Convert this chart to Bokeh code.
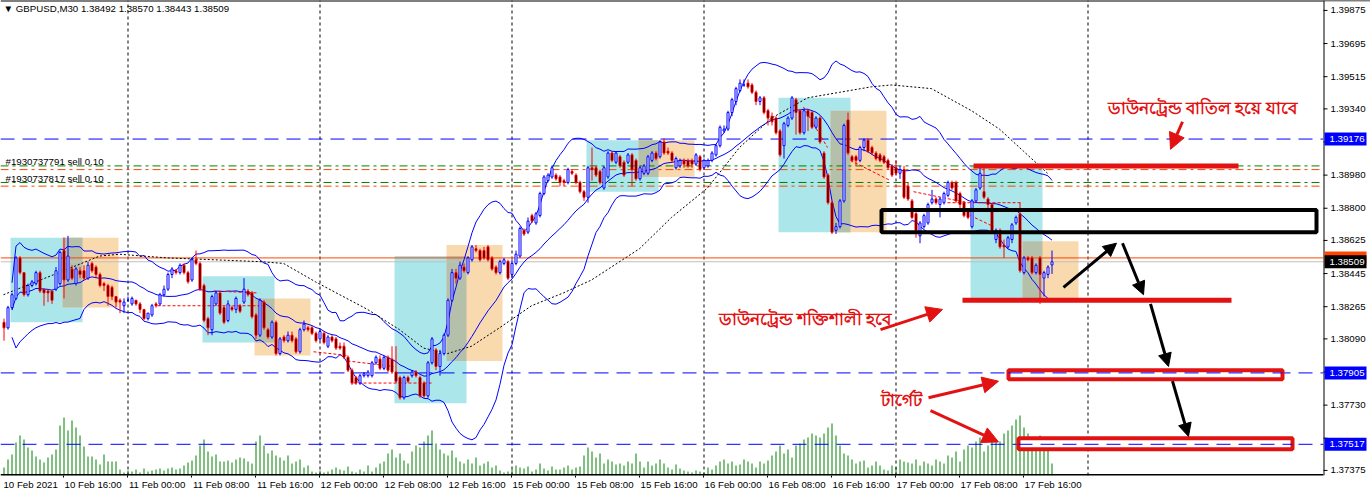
import numpy as np
import pandas as pd
from bokeh.plotting import figure
from bokeh.models import Range1d, FixedTicker, Label, Arrow, NormalHead, ColumnDataSource
from bokeh.core.properties import value
from bokeh.embed import file_html
from bokeh.resources import INLINE

symbol = "GBPUSD,M30"
last_ohlc = [1.38492, 1.38570, 1.38443, 1.38509]

opens = [1.3818, 1.3815, 1.3826, 1.3831, 1.3853, 1.3845, 1.3833, 1.3838, 1.3839, 1.3845,
         1.3836, 1.3835, 1.3835, 1.3836, 1.3839, 1.3857, 1.3841, 1.3847, 1.3839, 1.3846,
         1.3846, 1.3842, 1.3850, 1.3848, 1.3844, 1.3839, 1.3838, 1.3837, 1.3832, 1.3830,
         1.3827, 1.3830, 1.3828, 1.3830, 1.3828, 1.3825, 1.3820, 1.3822, 1.3828, 1.3828,
         1.3833, 1.3836, 1.3844, 1.3846, 1.3845, 1.3849, 1.3845, 1.3841, 1.3852, 1.3850,
         1.3838, 1.3820, 1.3814, 1.3828, 1.3834, 1.3826, 1.3819, 1.3826, 1.3825, 1.3827,
         1.3829, 1.3835, 1.3834, 1.3822, 1.3811, 1.3829, 1.3814, 1.3810, 1.3818, 1.3801,
         1.3810, 1.3808, 1.3811, 1.3809, 1.3802, 1.3814, 1.3815, 1.3815, 1.3812, 1.3809,
         1.3812, 1.3805, 1.3810, 1.3809, 1.3805, 1.3805, 1.3799, 1.3792, 1.3788, 1.3785,
         1.3789, 1.3789, 1.3789, 1.3796, 1.3798, 1.3793, 1.3799, 1.3798, 1.3791, 1.3788,
         1.3777, 1.3788, 1.3789, 1.3791, 1.3788, 1.3785, 1.3778, 1.3796, 1.3803, 1.3794,
         1.3801, 1.3811, 1.3830, 1.3845, 1.3842, 1.3848, 1.3845, 1.3852, 1.3858, 1.3857,
         1.3857, 1.3859, 1.3853, 1.3848, 1.3845, 1.3850, 1.3851, 1.3844, 1.3850, 1.3854,
         1.3868, 1.3867, 1.3876, 1.3872, 1.3876, 1.3888, 1.3895, 1.3897, 1.3898, 1.3897,
         1.3895, 1.3894, 1.3900, 1.3898, 1.3894, 1.3889, 1.3886, 1.3902, 1.3902, 1.3900,
         1.3891, 1.3897, 1.3910, 1.3905, 1.3908, 1.3905, 1.3905, 1.3909, 1.3906, 1.3896,
         1.3899, 1.3899, 1.3906, 1.3910, 1.3908, 1.3916, 1.3911, 1.3910, 1.3902, 1.3903,
         1.3906, 1.3906, 1.3906, 1.3904, 1.3908, 1.3902, 1.3903, 1.3906, 1.3909, 1.3914,
         1.3922, 1.3923, 1.3932, 1.3938, 1.3944, 1.3947, 1.3948, 1.3947, 1.3943, 1.3938,
         1.3940, 1.3933, 1.3930, 1.3929, 1.3922, 1.3914, 1.3925, 1.3929, 1.3939, 1.3933,
         1.3921, 1.3933, 1.3932, 1.3924, 1.3929, 1.3910, 1.3898, 1.3883, 1.3868, 1.3870,
         1.3884, 1.3928, 1.3908, 1.3908, 1.3906, 1.3913, 1.3917, 1.3913, 1.3910, 1.3909,
         1.3908, 1.3906, 1.3903, 1.3902, 1.3899, 1.3901, 1.3892, 1.3884, 1.3877, 1.3865,
         1.3870, 1.3872, 1.3883, 1.3885, 1.3882, 1.3883, 1.3887, 1.3894, 1.3894, 1.3888,
         1.3883, 1.3879, 1.3870, 1.3884, 1.3891, 1.3889, 1.3885, 1.3882, 1.3863, 1.3868,
         1.3860, 1.3859, 1.3863, 1.3872, 1.3877, 1.3845, 1.3853, 1.3853, 1.3845, 1.3853,
         1.3842, 1.3844, 1.38492]

highs = [1.3820, 1.3827, 1.3834, 1.3854, 1.3854, 1.3845, 1.3839, 1.3841, 1.3846, 1.3846,
         1.3836, 1.3836, 1.3835, 1.3848, 1.3857, 1.3864, 1.3865, 1.3849, 1.3848, 1.3848,
         1.3849, 1.3851, 1.3851, 1.3849, 1.3845, 1.3840, 1.3839, 1.3838, 1.3832, 1.3831,
         1.3831, 1.3832, 1.3832, 1.3830, 1.3829, 1.3825, 1.3823, 1.3828, 1.3829, 1.3834,
         1.3838, 1.3845, 1.3848, 1.3847, 1.3850, 1.3850, 1.3846, 1.3853, 1.3857, 1.3851,
         1.3839, 1.3821, 1.3833, 1.3835, 1.3835, 1.3827, 1.3830, 1.3827, 1.3832, 1.3828,
         1.3842, 1.3836, 1.3835, 1.3823, 1.3831, 1.3830, 1.3815, 1.3819, 1.3819, 1.3810,
         1.3811, 1.3813, 1.3813, 1.3810, 1.3815, 1.3819, 1.3816, 1.3816, 1.3813, 1.3814,
         1.3813, 1.3811, 1.3811, 1.3810, 1.3807, 1.3807, 1.3800, 1.3793, 1.3789, 1.3790,
         1.3791, 1.3792, 1.3797, 1.3800, 1.3800, 1.3800, 1.3800, 1.3805, 1.3805, 1.3789,
         1.3789, 1.3789, 1.3792, 1.3792, 1.3789, 1.3786, 1.3797, 1.3810, 1.3804, 1.3803,
         1.3812, 1.3831, 1.3847, 1.3847, 1.3851, 1.3850, 1.3854, 1.3860, 1.3860, 1.3858,
         1.3859, 1.3860, 1.3854, 1.3849, 1.3852, 1.3853, 1.3852, 1.3852, 1.3857, 1.3870,
         1.3869, 1.3875, 1.3877, 1.3878, 1.3889, 1.3898, 1.3899, 1.3903, 1.3899, 1.3898,
         1.3896, 1.3902, 1.3901, 1.3899, 1.3895, 1.3890, 1.3903, 1.3913, 1.3903, 1.3901,
         1.3903, 1.3911, 1.3911, 1.3911, 1.3909, 1.3906, 1.3910, 1.3910, 1.3907, 1.3903,
         1.3904, 1.3909, 1.3911, 1.3911, 1.3917, 1.3918, 1.3913, 1.3911, 1.3908, 1.3907,
         1.3907, 1.3907, 1.3907, 1.3910, 1.3909, 1.3907, 1.3907, 1.3911, 1.3915, 1.3925,
         1.3925, 1.3933, 1.3940, 1.3946, 1.3950, 1.3950, 1.3950, 1.3948, 1.3944, 1.3941,
         1.3941, 1.3934, 1.3932, 1.3930, 1.3923, 1.3927, 1.3930, 1.3941, 1.3940, 1.3934,
         1.3934, 1.3934, 1.3933, 1.3930, 1.3930, 1.3911, 1.3899, 1.3884, 1.3872, 1.3885,
         1.3926, 1.3932, 1.3909, 1.3909, 1.3914, 1.3918, 1.3918, 1.3914, 1.3911, 1.3910,
         1.3909, 1.3907, 1.3904, 1.3906, 1.3903, 1.3903, 1.3894, 1.3885, 1.3878, 1.3873,
         1.3877, 1.3883, 1.3890, 1.3886, 1.3886, 1.3889, 1.3895, 1.3895, 1.3895, 1.3889,
         1.3884, 1.3880, 1.3885, 1.3891, 1.3903, 1.3902, 1.3886, 1.3883, 1.3869, 1.3869,
         1.3863, 1.3865, 1.3872, 1.3876, 1.3883, 1.3854, 1.3854, 1.3854, 1.3850, 1.3854,
         1.3846, 1.3849, 1.38570]

lows = [1.3808, 1.3814, 1.3825, 1.3830, 1.3844, 1.3832, 1.3832, 1.3837, 1.3838, 1.3834,
        1.3827, 1.3829, 1.3828, 1.3835, 1.3838, 1.3831, 1.3840, 1.3841, 1.3838, 1.3842,
        1.3841, 1.3841, 1.3845, 1.3842, 1.3837, 1.3835, 1.3827, 1.3830, 1.3826, 1.3823,
        1.3823, 1.3829, 1.3827, 1.3827, 1.3823, 1.3819, 1.3819, 1.3821, 1.3826, 1.3827,
        1.3832, 1.3835, 1.3842, 1.3844, 1.3844, 1.3844, 1.3839, 1.3840, 1.3849, 1.3835,
        1.3818, 1.3811, 1.3811, 1.3827, 1.3822, 1.3817, 1.3818, 1.3824, 1.3823, 1.3823,
        1.3828, 1.3832, 1.3820, 1.3809, 1.3810, 1.3814, 1.3809, 1.3809, 1.3800, 1.3800,
        1.3807, 1.3807, 1.3807, 1.3801, 1.3801, 1.3813, 1.3813, 1.3811, 1.3807, 1.3808,
        1.3806, 1.3804, 1.3807, 1.3803, 1.3803, 1.3798, 1.3791, 1.3784, 1.3784, 1.3784,
        1.3788, 1.3788, 1.3788, 1.3795, 1.3792, 1.3792, 1.3791, 1.3790, 1.3785, 1.3776,
        1.3776, 1.3785, 1.3788, 1.3788, 1.3777, 1.3777, 1.3777, 1.3795, 1.3792, 1.3789,
        1.3800, 1.3810, 1.3829, 1.3839, 1.3841, 1.3845, 1.3844, 1.3851, 1.3856, 1.3851,
        1.3852, 1.3851, 1.3846, 1.3844, 1.3844, 1.3849, 1.3841, 1.3842, 1.3849, 1.3853,
        1.3865, 1.3866, 1.3872, 1.3871, 1.3875, 1.3887, 1.3894, 1.3896, 1.3895, 1.3892,
        1.3892, 1.3893, 1.3898, 1.3893, 1.3888, 1.3884, 1.3883, 1.3895, 1.3897, 1.3893,
        1.3890, 1.3896, 1.3905, 1.3904, 1.3902, 1.3897, 1.3904, 1.3892, 1.3895, 1.3895,
        1.3898, 1.3898, 1.3905, 1.3906, 1.3907, 1.3909, 1.3909, 1.3905, 1.3901, 1.3902,
        1.3902, 1.3902, 1.3902, 1.3903, 1.3900, 1.3901, 1.3902, 1.3905, 1.3908, 1.3913,
        1.3921, 1.3922, 1.3930, 1.3936, 1.3943, 1.3946, 1.3945, 1.3942, 1.3936, 1.3936,
        1.3931, 1.3925, 1.3925, 1.3920, 1.3908, 1.3907, 1.3924, 1.3928, 1.3920, 1.3920,
        1.3920, 1.3922, 1.3923, 1.3923, 1.3915, 1.3896, 1.3882, 1.3866, 1.3866, 1.3869,
        1.3883, 1.3909, 1.3905, 1.3903, 1.3905, 1.3911, 1.3910, 1.3909, 1.3906, 1.3905,
        1.3904, 1.3901, 1.3897, 1.3898, 1.3896, 1.3885, 1.3884, 1.3874, 1.3864, 1.3861,
        1.3869, 1.3871, 1.3882, 1.3882, 1.3875, 1.3882, 1.3886, 1.3890, 1.3883, 1.3880,
        1.3875, 1.3874, 1.3869, 1.3883, 1.3890, 1.3885, 1.3880, 1.3866, 1.3861, 1.3858,
        1.3853, 1.3858, 1.3861, 1.3871, 1.3845, 1.3844, 1.3851, 1.3844, 1.3844, 1.3828,
        1.3832, 1.3842, 1.38443]

closes = [1.3815, 1.3826, 1.3833, 1.3853, 1.3845, 1.3833, 1.3838, 1.3840, 1.3845, 1.3835,
          1.3834, 1.3834, 1.3830, 1.3846, 1.3856, 1.3841, 1.3854, 1.3842, 1.3847, 1.3844,
          1.3842, 1.3849, 1.3846, 1.3844, 1.3838, 1.3838, 1.3832, 1.3832, 1.3829, 1.3829,
          1.3829, 1.3830, 1.3831, 1.3828, 1.3825, 1.3820, 1.3823, 1.3827, 1.3827, 1.3833,
          1.3836, 1.3844, 1.3847, 1.3845, 1.3849, 1.3845, 1.3840, 1.3852, 1.3850, 1.3836,
          1.3819, 1.3815, 1.3832, 1.3834, 1.3823, 1.3818, 1.3828, 1.3825, 1.3831, 1.3824,
          1.3836, 1.3833, 1.3821, 1.3811, 1.3830, 1.3815, 1.3810, 1.3818, 1.3801, 1.3809,
          1.3808, 1.3811, 1.3808, 1.3802, 1.3814, 1.3817, 1.3814, 1.3812, 1.3808, 1.3813,
          1.3807, 1.3810, 1.3808, 1.3804, 1.3804, 1.3799, 1.3792, 1.3785, 1.3785, 1.3789,
          1.3790, 1.3791, 1.3796, 1.3799, 1.3793, 1.3799, 1.3792, 1.3791, 1.3786, 1.3777,
          1.3788, 1.3786, 1.3791, 1.3789, 1.3778, 1.3778, 1.3796, 1.3809, 1.3794, 1.3801,
          1.3811, 1.3830, 1.3845, 1.3842, 1.3849, 1.3846, 1.3853, 1.3859, 1.3857, 1.3852,
          1.3853, 1.3852, 1.3847, 1.3845, 1.3851, 1.3852, 1.3842, 1.3850, 1.3855, 1.3869,
          1.3866, 1.3873, 1.3873, 1.3877, 1.3888, 1.3897, 1.3898, 1.3902, 1.3896, 1.3894,
          1.3894, 1.3901, 1.3899, 1.3894, 1.3889, 1.3886, 1.3902, 1.3901, 1.3898, 1.3894,
          1.3902, 1.3910, 1.3906, 1.3910, 1.3903, 1.3898, 1.3909, 1.3901, 1.3896, 1.3902,
          1.3903, 1.3908, 1.3910, 1.3907, 1.3916, 1.3910, 1.3910, 1.3906, 1.3907, 1.3906,
          1.3904, 1.3903, 1.3904, 1.3909, 1.3901, 1.3906, 1.3906, 1.3910, 1.3914, 1.3924,
          1.3923, 1.3932, 1.3939, 1.3945, 1.3948, 1.3947, 1.3946, 1.3943, 1.3938, 1.3940,
          1.3932, 1.3929, 1.3927, 1.3921, 1.3909, 1.3926, 1.3929, 1.3940, 1.3932, 1.3921,
          1.3933, 1.3930, 1.3924, 1.3929, 1.3916, 1.3897, 1.3883, 1.3867, 1.3870, 1.3884,
          1.3925, 1.3910, 1.3906, 1.3906, 1.3913, 1.3917, 1.3911, 1.3910, 1.3907, 1.3906,
          1.3905, 1.3902, 1.3898, 1.3899, 1.3901, 1.3886, 1.3885, 1.3875, 1.3868, 1.3872,
          1.3876, 1.3882, 1.3885, 1.3883, 1.3885, 1.3888, 1.3894, 1.3891, 1.3884, 1.3882,
          1.3876, 1.3875, 1.3884, 1.3890, 1.3899, 1.3886, 1.3882, 1.3867, 1.3868, 1.3859,
          1.3859, 1.3864, 1.3871, 1.3875, 1.3846, 1.3853, 1.3852, 1.3845, 1.3849, 1.3844,
          1.3845, 1.3848, 1.38509]

volumes = [80, 160, 210, 330, 400, 360, 280, 250, 190, 160, 130, 180, 210, 260, 500,
           580, 450, 550, 480, 400, 290,
           190, 190, 160, 110, 210, 140, 140, 140, 60, 30,
           50, 40, 60, 30, 70, 40, 50, 60, 70, 50, 70, 80, 60, 70, 100, 130, 150,
           200, 300, 360, 240, 190, 210, 140, 140, 150, 130, 160, 180, 170, 140, 120,
           340, 400, 300, 220, 250, 200,
           180, 150, 200, 120, 140, 160, 80, 100, 40, 30, 50, 30,
           40, 60, 80, 60, 50, 90, 40, 30, 60, 40, 100, 40, 80, 120, 140,
           220, 260, 180, 220, 150, 120, 240, 300, 280, 340, 400, 450, 320, 260, 220, 200,
           250, 180, 140, 120, 160, 120, 180, 100, 120, 140, 80, 100, 50, 30, 40,
           60, 100, 80, 70, 90, 40, 60, 120, 70, 50, 90, 60, 60, 80, 100, 60, 80, 90, 200, 280,
           240, 180, 220, 120, 160, 140, 110, 120, 100, 140, 120, 220, 140, 80,
           140, 100, 120, 160, 120, 80, 60, 110, 70, 50, 40, 30, 50, 40, 30, 80,
           60, 100, 140, 160, 120, 140, 100, 110, 160, 140, 120, 80, 140, 120, 150, 200,
           240, 300, 220, 260, 180, 300, 320, 360, 380, 420, 400, 380, 420, 480, 520, 400, 300, 220,
           200, 160, 120, 140, 150, 80, 100, 140, 100, 60, 50, 100, 80, 160, 140,
           130, 120, 160, 100, 140, 120, 100, 160, 140, 120, 200, 180, 240, 140, 260, 300, 280, 340, 380,
           240, 300, 380, 360, 340, 420, 450, 500, 560, 600, 480, 420, 300, 360, 400, 380, 320, 120]

# slow dotted moving average, read at sample bars
ma_bars = [0, 15, 24, 29, 41, 64, 70, 78, 91, 99, 105, 111, 117, 124, 132, 140, 147, 159, 167, 176,
           184, 192, 201, 209, 217, 222, 232, 242, 249, 255, 261]
ma_vals = [1.3833, 1.3846, 1.3854, 1.3855, 1.3853, 1.3851, 1.3850, 1.3840, 1.3825, 1.3814, 1.3804,
           1.3801, 1.3805, 1.3815, 1.3827, 1.3834, 1.3841, 1.3858, 1.3875, 1.3891, 1.3913, 1.3929,
           1.3940, 1.3943, 1.3946, 1.3947, 1.3945, 1.3933, 1.3923, 1.3911, 1.3899]

# time axis (bar index where each time label starts)
x_labels = ["10 Feb 2021", "10 Feb 16:00", "11 Feb 00:00", "11 Feb 08:00", "11 Feb 16:00",
            "12 Feb 00:00", "12 Feb 08:00", "12 Feb 16:00", "15 Feb 00:00", "15 Feb 08:00",
            "15 Feb 16:00", "16 Feb 00:00", "16 Feb 08:00", "16 Feb 16:00", "17 Feb 00:00",
            "17 Feb 08:00", "17 Feb 16:00"]
x_label_bars = [-0.6, 15, 31, 47, 63, 79, 95, 111, 127, 143, 159, 175, 191, 207, 223, 239, 255]
day_start_bars = [31, 79, 127, 175, 223, 271]

# price scale ticks
y_ticks = [1.39875, 1.39695, 1.39515, 1.39340, 1.39160, 1.38980, 1.38800, 1.38625, 1.38445,
           1.38265, 1.38090, 1.37910, 1.37730, 1.37550, 1.37375]
hidden_tick_labels = [1.39160, 1.37910, 1.37550]

# session boxes
cyan_left = [1.75, 49.75, 97.75, 145.75, 193.75, 241.75]
cyan_right = [19.75, 67.75, 115.75, 163.75, 211.75, 259.75]
cyan_top = [1.3864, 1.3843, 1.3854, 1.3917, 1.3940, 1.3903]
cyan_bottom = [1.3818, 1.3807, 1.3774, 1.3889, 1.3867, 1.3830]
orange_left = [14.75, 62.75, 110.75, 158.75, 206.75, 254.75]
orange_right = [28.75, 76.75, 124.75, 172.75, 220.75, 268.75]
orange_top = [1.3864, 1.3831, 1.3860, 1.3917, 1.3933, 1.3862]
orange_bottom = [1.3826, 1.3800, 1.3797, 1.3897, 1.3867, 1.3830]

# trade history lines
trade_b0 = [38.5, 52.5, 77.5, 86, 87.5, 200, 211.75, 236, 227.5, 241.75]
trade_b1 = [66, 63.5, 86, 97.5, 107.5, 206, 221.75, 254.25, 241, 247.5]
trade_p0 = [1.3827, 1.3835, 1.3802, 1.3797, 1.3785, 1.3935, 1.3906, 1.3883, 1.3889, 1.3876]
trade_p1 = [1.3827, 1.3834, 1.3800, 1.3794, 1.3785, 1.3913, 1.3895, 1.3883, 1.3883, 1.3870]

# horizontal levels
blue_levels = [1.39176, 1.37905, 1.37517]
order_open = [1.3903, 1.3894]
order_stop = [1.3901, 1.3892]
order_names = ["#1930737791 sell 0.10", "#1930737817 sell 0.10"]
order_text_y = [1.39054, 1.38962]
ask_price = 1.38530

# hand drawn annotations
red_line_b0 = [242.5, 239.75]
red_line_b1 = [308.75, 307]
red_line_p = [1.3903, 1.3830]
target_b0 = [251.25, 253.75]
target_b1 = [319.75, 322.25]
target_top = [1.3792, 1.3755]
target_bottom = [1.3787, 1.3749]
zone_b = [219.5, 328.25]
zone_p = [1.3867, 1.3879]
red_arrows = [(294.75, 1.3927, 291.75, 1.3912), (219.25, 1.3814, 234.75, 1.3825),
              (231.25, 1.3777, 248.75, 1.3786), (231.75, 1.3770, 248.75, 1.3753)]
black_arrows = [(265, 1.3837, 278.25, 1.3861), (279.75, 1.3861, 285, 1.3833),
                (286.75, 1.3828, 291.25, 1.3794), (292.25, 1.3786, 296.25, 1.3756)]
notes = ["ডাউনট্রেন্ড বাতিল হয়ে যাবে", "ডাউনট্রেন্ড শক্তিশালী হবে", "টার্গেট"]
note_b = [276, 178.75, 219.25]
note_p = [1.3935, 1.3820, 1.3776]

RED = "#e31212"
FONT = "Liberation Sans"
FS = "9.7px"

# view: 4 px per bar, 18400 px per price unit; canvas 1370 x 495
X0, X1 = -0.75, 341.75
Y1 = 1.39929
FRAME_H = 475
Y0 = Y1 - FRAME_H / 18400.0
AXIS_K = 330.0
PX = 1 / 18400.0
SHIFT = 0.125  # half a pixel, keeps 1px strokes crisp

p = figure(width=1370, height=495, output_backend="svg", toolbar_location=None,
           x_range=Range1d(X0, X1), y_range=Range1d(Y0, Y1), y_axis_location=None,
           min_border_left=0, min_border_right=0, min_border_top=0, min_border_bottom=20)
p.background_fill_color = "white"
p.border_fill_color = "white"
p.outline_line_color = None
p.xgrid.visible = False
p.ygrid.visible = False

# session boxes
p.quad(left=cyan_left, right=cyan_right, top=cyan_top, bottom=cyan_bottom,
       fill_color="#aae6ea", line_color=None)
p.quad(left=orange_left, right=orange_right, top=orange_top, bottom=orange_bottom,
       fill_color="#f9d9ae", line_color=None)
ov_top = [min(a, b) for a, b in zip(cyan_top, orange_top)]
ov_bot = [max(a, b) for a, b in zip(cyan_bottom, orange_bottom)]
p.quad(left=orange_left, right=cyan_right, top=ov_top, bottom=ov_bot,
       fill_color="#b4c0aa", line_color=None)

# volume histogram
p.extra_y_ranges = {"vol": Range1d(0, FRAME_H * 10)}
bars = np.arange(len(closes))
bx = bars + SHIFT
p.segment(x0=bx, y0=0, x1=bx, y1=volumes, y_range_name="vol", line_color="#008000", line_width=1)

# day separators
sep = [b + SHIFT for b in day_start_bars]
p.segment(x0=sep, y0=Y0, x1=sep, y1=Y1, line_color="black", line_dash="3 3", line_width=1)

# level lines
n_bl = len(blue_levels)
p.segment(x0=[X0] * n_bl, y0=blue_levels, x1=[AXIS_K] * n_bl, y1=blue_levels,
          line_color="#0000ff", line_dash="14 8", line_width=1)
p.segment(x0=[X0] * 2, y0=order_open, x1=[AXIS_K] * 2, y1=order_open,
          line_color="#008000", line_dash="8 4 3 4", line_width=1)
p.segment(x0=[X0] * 2, y0=order_stop, x1=[AXIS_K] * 2, y1=order_stop,
          line_color="#ff4500", line_dash="8 4 3 4", line_width=1)
p.segment(x0=[X0], y0=[ask_price], x1=[AXIS_K], y1=[ask_price], line_color="#ff4500", line_width=1)
p.segment(x0=[X0], y0=[last_ohlc[3]], x1=[AXIS_K], y1=[last_ohlc[3]], line_color="#c0c0c0", line_width=1)

# bollinger bands (20, 2) and slow MA
s = pd.Series(closes)
mid = s.rolling(20, min_periods=1).mean()
sd = s.rolling(20, min_periods=1).std(ddof=0).fillna(0)
for band in (mid, mid + 2 * sd, mid - 2 * sd):
    p.line(bx[2:], band.values[2:], line_color="#0000ff", line_width=1)
p.line(ma_bars, ma_vals, line_color="black", line_dash="2 2", line_width=1)

# trade lines
p.segment(x0=trade_b0, y0=trade_p0, x1=trade_b1, y1=trade_p1, line_color="#ff0000", line_dash="3 2", line_width=1)

# candles
df = pd.DataFrame(dict(b=bx, o=opens, h=highs, l=lows, c=closes))
df["top"] = df[["o", "c"]].max(axis=1)
df["bot"] = df[["o", "c"]].min(axis=1)
up = ColumnDataSource(df[df.c >= df.o])
dn = ColumnDataSource(df[df.c < df.o])
p.segment(x0="b", y0="l", x1="b", y1="h", source=up, line_color="#0000ff", line_width=1)
p.segment(x0="b", y0="l", x1="b", y1="h", source=dn, line_color="#ff0000", line_width=1)
p.vbar(x="b", width=0.5, top="top", bottom="bot", source=up, fill_color="white", line_color="#0000ff", line_width=1)
p.vbar(x="b", width=0.5, top="top", bottom="bot", source=dn, fill_color="black", line_color="#ff0000", line_width=1)

# drawn objects
p.quad(left=[zone_b[0]], right=[zone_b[1]], bottom=[zone_p[0]], top=[zone_p[1]],
       fill_color=None, line_color="black", line_width=4)
p.segment(x0=red_line_b0, y0=red_line_p, x1=red_line_b1, y1=red_line_p, line_color=RED, line_width=5)
p.quad(left=target_b0, right=target_b1, top=target_top, bottom=target_bottom,
       fill_color="white", line_color=RED, line_width=4)
p.segment(x0=target_b0, y0=blue_levels[1:], x1=target_b1, y1=blue_levels[1:],
          line_color="#0000ff", line_dash="14 8", line_width=1)
for (x0, y0, x1, y1) in red_arrows:
    p.add_layout(Arrow(end=NormalHead(size=16, fill_color=RED, line_color=RED),
                       x_start=x0, y_start=y0, x_end=x1, y_end=y1, line_color=RED, line_width=3))
for (x0, y0, x1, y1) in black_arrows:
    p.add_layout(Arrow(end=NormalHead(size=13, fill_color="black", line_color="black"),
                       x_start=x0, y_start=y0, x_end=x1, y_end=y1, line_color="black", line_width=3))
for t, b, pr in zip(notes, note_b, note_p):
    p.add_layout(Label(x=b, y=pr, text=t, text_color=RED, text_font="Noto Sans",
                       text_font_size="17px", text_font_style="bold", text_baseline="middle"))

# header and order labels
hdr = "\u25bc " + symbol + "  " + " ".join(f"{v:.5f}" for v in last_ohlc)
p.add_layout(Label(x=0.0, y=1.39886, text=hdr, text_color="black", text_font=FONT,
                   text_font_size=FS, text_baseline="middle"))
for t, pr in zip(order_names, order_text_y):
    p.add_layout(Label(x=0.5, y=pr, text=t, text_color="black", text_font=FONT,
                       text_font_size=FS, text_baseline="middle"))

# chart border (top and bottom)
p.segment(x0=[X0, X0], y0=[Y1, Y0 + 0.5 * PX], x1=[X1, AXIS_K], y1=[Y1, Y0 + 0.5 * PX],
          line_color="black", line_width=2)

# price scale on the right (drawn in data space so the price tags can overlap it)
p.quad(left=[AXIS_K], right=[X1 + 1], bottom=[Y0], top=[Y1 - PX], fill_color="white", line_color=None)
p.segment(x0=[AXIS_K + SHIFT], y0=[Y0], x1=[AXIS_K + SHIFT], y1=[Y1], line_color="black", line_width=1)
p.segment(x0=[AXIS_K] * len(y_ticks), y0=y_ticks, x1=[AXIS_K + 1.0] * len(y_ticks), y1=y_ticks,
          line_color="black", line_width=1)
shown = [v for v in y_ticks if v not in hidden_tick_labels]
p.text(x=[AXIS_K + 1.75] * len(shown), y=shown, text=[f"{v:.5f}" for v in shown],
       text_font=value(FONT), text_font_size=FS, text_color="black",
       text_baseline="middle", text_align="left")
tags = [(blue_levels[0], "#0000ff"), (ask_price, "#ff4500"), (last_ohlc[3], "#000000"),
        (blue_levels[1], "#0000ff"), (blue_levels[2], "#0000ff")]
half = 6.5 * PX
p.quad(left=[AXIS_K + 0.25] * len(tags), right=[340.75] * len(tags),
       top=[t[0] + half for t in tags], bottom=[t[0] - half for t in tags],
       fill_color=[t[1] for t in tags], line_color=None)
tag_txt = [(pr, f"{pr:.5f}") for pr, col in tags if col != "#ff4500"]
p.text(x=[AXIS_K + 1.5] * len(tag_txt), y=[t[0] for t in tag_txt], text=[t[1] for t in tag_txt],
       text_font=value(FONT), text_font_size=FS, text_color="white",
       text_baseline="middle", text_align="left")

# time axis
centers = [b + 7.4 for b in x_label_bars]
p.xaxis.ticker = FixedTicker(ticks=centers, minor_ticks=x_label_bars[1:])
p.xaxis.major_label_overrides = {c: t for c, t in zip(centers, x_labels)}
p.xaxis.major_tick_out = 0
p.xaxis.major_tick_in = 0
p.xaxis.minor_tick_out = 2
p.xaxis.minor_tick_in = 0
p.xaxis.major_label_standoff = 1
p.xaxis.axis_line_color = None
p.xaxis.minor_tick_line_color = "black"
p.xaxis.major_label_text_font = FONT
p.xaxis.major_label_text_font_size = FS
p.xaxis.major_label_text_color = "black"

open("out.html", "w").write(file_html(p, INLINE))
